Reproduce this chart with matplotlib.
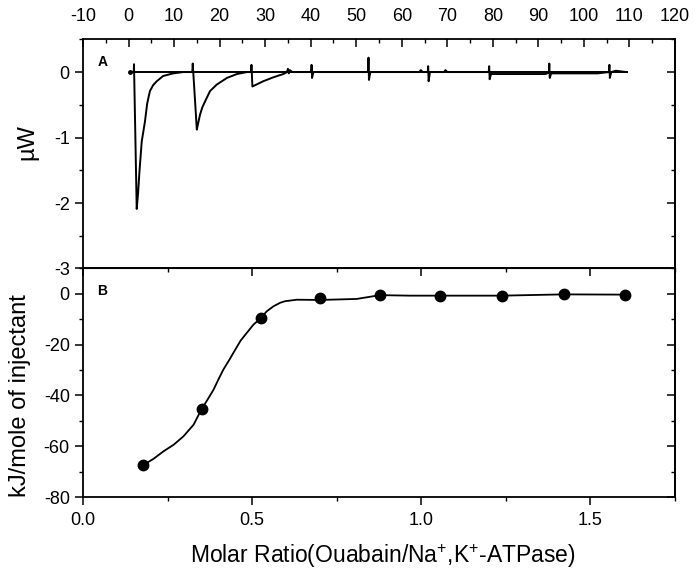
#!/usr/bin/env python3

import matplotlib
matplotlib.use("Agg")
import matplotlib.pyplot as plt
from matplotlib.ticker import MultipleLocator, FormatStrFormatter


# Panel A: raw ITC trace (time in min, power in microwatt)
BASELINE_T = [0.3, 109.4]
BASELINE_Y = [0.0, 0.0]

TRACE_T = [
    0.3, 1.15, 1.2, 1.8, 2.1, 2.4, 2.9, 3.6, 4.1, 4.7, 5.4, 6.2, 7.6, 9.8, 12.0,
    14.0, 14.1, 15.0, 15.3, 15.7, 16.2, 16.8, 17.9, 19.4, 21.6, 23.8, 26.0,
    26.9, 27.0, 27.2, 28.4, 29.6, 31.8, 34.0, 34.8, 35.0, 35.2, 35.4, 36.0,
    40.1, 40.2, 40.3, 40.6,
    52.6, 52.7, 52.8, 53.1,
    63.8, 64.2, 64.6, 65.7, 65.8, 65.9, 66.2, 69.3, 69.6, 70.0,
    79.1, 79.2, 79.3, 79.6, 91.5, 92.3,
    92.4, 92.5, 92.8, 103.0, 105.5,
    105.6, 105.7, 106.0, 107.0, 109.4,
]
TRACE_Y = [
    0.0, 0.0, 0.12, -2.09, -1.85, -1.52, -1.06, -0.76, -0.48, -0.29, -0.2, -0.14, -0.06, -0.02, 0.0,
    0.0, 0.13, -0.88, -0.78, -0.65, -0.54, -0.45, -0.29, -0.19, -0.09, -0.03, 0.0,
    0.0, 0.11, -0.22, -0.18, -0.14, -0.08, -0.03, 0.0, 0.05, -0.02, 0.03, 0.0,
    0.0, 0.11, -0.09, 0.0,
    0.0, 0.22, -0.12, 0.0,
    0.0, 0.03, 0.0, 0.0, 0.09, -0.14, 0.0, 0.0, 0.03, 0.0,
    0.0, 0.09, -0.11, -0.03, -0.03, -0.01,
    0.13, -0.09, -0.02, -0.02, 0.0,
    0.11, -0.09, 0.0, 0.02, 0.0,
]

# Panel B: integrated heats and fitted curve
POINT_X = [0.177, 0.351, 0.526, 0.701, 0.878, 1.055, 1.239, 1.421, 1.601]
POINT_Y = [-67.5, -45.3, -9.5, -1.6, -0.3, -0.7, -0.7, 0.0, -0.3]

FIT_X = [
    0.177, 0.208, 0.238, 0.268, 0.297, 0.327, 0.351, 0.368, 0.386,
    0.400, 0.415, 0.433, 0.450, 0.466, 0.484, 0.504, 0.526, 0.543,
    0.563, 0.583, 0.597, 0.632, 0.700, 0.809, 0.878, 0.966, 1.055,
    1.239, 1.421, 1.601,
]
FIT_Y = [
    -67.5, -65.0, -62.0, -59.4, -56.1, -51.5, -45.3, -41.7, -37.7,
    -33.8, -29.8, -25.9, -22.0, -18.4, -15.4, -12.1, -9.5, -6.9,
    -4.9, -3.5, -2.9, -2.3, -2.4, -2.0, -0.5, -0.7, -0.7,
    -0.7, -0.2, -0.3,
]

TOP_TICKS = list(range(-10, 121, 10))


def style_spines(axis):
    for spine in axis.spines.values():
        spine.set_linewidth(1.3)


def main():
    plt.rcParams["font.family"] = ["Liberation Sans", "DejaVu Sans"]
    plt.rcParams["axes.unicode_minus"] = False
    plt.rcParams["mathtext.fontset"] = "custom"
    plt.rcParams["mathtext.rm"] = "Liberation Sans"

    figure = plt.figure(figsize=(6.95, 5.70), dpi=100)
    left, width = 0.1194, 0.8518
    ax_a = figure.add_axes([left, 0.529, width, 0.402])
    ax_b = figure.add_axes([left, 0.128, width, 0.401])

    major = dict(length=5.5, width=1.1)
    minor = dict(length=3, width=1.0)

    # ---- panel A
    ax_a.plot(BASELINE_T, BASELINE_Y, color="black", linewidth=1.4)
    ax_a.plot(TRACE_T, TRACE_Y, color="black", linewidth=1.4)
    ax_a.plot([0.3], [0.0], "o", color="black", markersize=2.5)
    ax_a.set_xlim(-10, 120)
    ax_a.set_ylim(-3, 0.5)
    ax_a.xaxis.tick_top()
    ax_a.set_xticks(TOP_TICKS)
    ax_a.xaxis.set_minor_locator(MultipleLocator(5))
    ax_a.tick_params(axis="x", which="both", direction="in", top=True,
                     bottom=False, labelsize=13, pad=10)
    ax_a.tick_params(axis="x", which="major", **major)
    ax_a.tick_params(axis="x", which="minor", **minor)
    ax_a.set_yticks([0, -1, -2, -3])
    ax_a.yaxis.set_minor_locator(MultipleLocator(0.5))
    ax_a.tick_params(axis="y", which="both", direction="out", left=True,
                     right=False, labelsize=13, pad=4)
    ax_a.tick_params(axis="y", which="major", **major)
    ax_a.tick_params(axis="y", which="minor", **minor)
    right_a = ax_a.secondary_yaxis("right")
    right_a.set_yticks([0, -1, -2, -3])
    right_a.yaxis.set_minor_locator(MultipleLocator(0.5))
    right_a.tick_params(which="both", direction="in", labelright=False)
    right_a.tick_params(which="major", **major)
    right_a.tick_params(which="minor", **minor)
    right_a.spines["right"].set_linewidth(1.3)
    ax_a.set_ylabel("\u00b5W", fontsize=17)
    ax_a.yaxis.set_label_coords(-0.076, 0.55)
    ax_a.text(0.034, 0.90, "A", transform=ax_a.transAxes, fontsize=10,
              fontweight="bold", ha="center", va="center")
    style_spines(ax_a)

    # ---- panel B
    ax_b.plot(FIT_X, FIT_Y, color="black", linewidth=1.3)
    ax_b.plot(POINT_X, POINT_Y, "o", color="black", markersize=7.5)
    ax_b.set_xlim(0, 1.75)
    ax_b.set_ylim(-80, 10)
    ax_b.set_xticks([0.0, 0.5, 1.0, 1.5])
    ax_b.xaxis.set_major_formatter(FormatStrFormatter("%.1f"))
    ax_b.xaxis.set_minor_locator(MultipleLocator(0.25))
    ax_b.tick_params(axis="x", which="both", direction="out", bottom=True,
                     top=False, labelsize=13, pad=5)
    ax_b.tick_params(axis="x", which="major", **major)
    ax_b.tick_params(axis="x", which="minor", **minor)
    top_b = ax_b.secondary_xaxis("top")
    top_b.set_xticks([0.0, 0.5, 1.0, 1.5])
    top_b.xaxis.set_minor_locator(MultipleLocator(0.25))
    top_b.tick_params(which="both", direction="in", labeltop=False)
    top_b.tick_params(which="major", **major)
    top_b.tick_params(which="minor", **minor)
    ax_b.set_yticks([0, -20, -40, -60, -80])
    ax_b.yaxis.set_minor_locator(MultipleLocator(10))
    ax_b.tick_params(axis="y", which="both", direction="out", left=True,
                     right=False, labelsize=13, pad=4)
    ax_b.tick_params(axis="y", which="major", **major)
    ax_b.tick_params(axis="y", which="minor", **minor)
    right_b = ax_b.secondary_yaxis("right")
    right_b.set_yticks([0, -20, -40, -60, -80])
    right_b.yaxis.set_minor_locator(MultipleLocator(10))
    right_b.tick_params(which="both", direction="in", labelright=False)
    right_b.tick_params(which="major", **major)
    right_b.tick_params(which="minor", **minor)
    right_b.spines["right"].set_linewidth(1.3)
    ax_b.set_ylabel("kJ/mole of injectant", fontsize=17)
    ax_b.yaxis.set_label_coords(-0.088, 0.443)
    ax_b.set_xlabel("Molar Ratio(Ouabain/Na$^{+}$,K$^{+}$-ATPase)",
                    fontsize=16.5, va="center")
    ax_b.xaxis.set_label_coords(0.506, -0.258)
    ax_b.text(0.032, 0.90, "B", transform=ax_b.transAxes, fontsize=10,
              fontweight="bold", ha="center", va="center")
    style_spines(ax_b)

    figure.savefig("out.png", dpi=100)
    plt.close(figure)


if __name__ == "__main__":
    main()
